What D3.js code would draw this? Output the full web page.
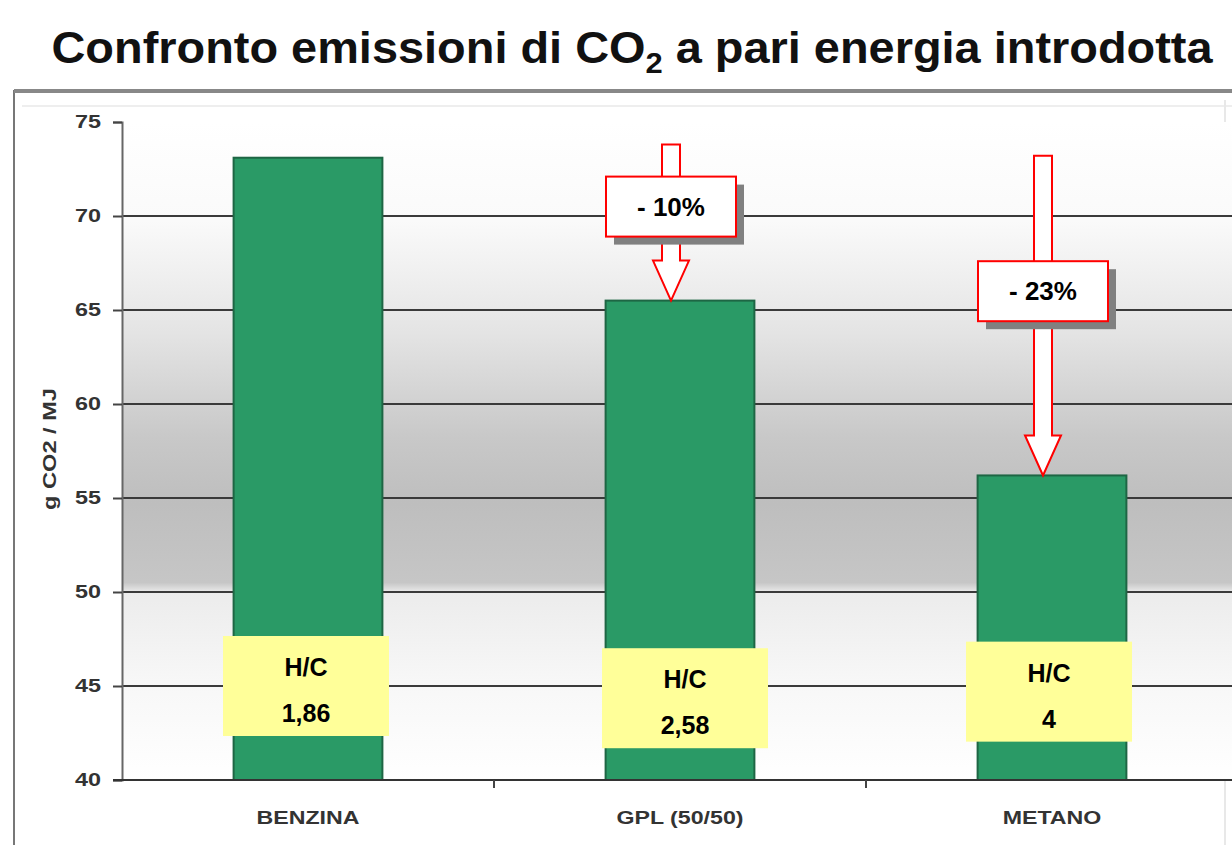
<!DOCTYPE html>
<html><head><meta charset="utf-8">
<script src="https://cdn.jsdelivr.net/npm/d3@7"></script>
<style>
html,body{margin:0;padding:0;background:#fff;}
svg{display:block;font-family:Arial,"Liberation Sans",Helvetica,sans-serif;}
</style></head>
<body>
<svg id="c" width="1232" height="845"></svg>
<script>
// ---- data ----
const categories = ["BENZINA", "GPL (50/50)", "METANO"];
const values = [73.1, 65.5, 56.2];
const hcLabels = ["1,86", "2,58", "4"];
const yTicks = [40, 45, 50, 55, 60, 65, 70, 75];
const reductions = [null, "- 10%", "- 23%"];
const arrowStart = [null, 73.8, 73.2];   // value where each arrow begins
const arrowLabelAt = [null, 70.5, 66.0]; // value of label-box centre
const hcBoxAt = [45.0, 44.35, 44.7];     // value of H/C box centre

(function () {
const svg = d3.select("#c");
const W = 1232, H = 845;
const mLeft = 122, mTop = 122, mBottom = 780, mRight = 1238;
const hcDx = [-2, 5, -3];

const y = d3.scaleLinear().domain([40, 75]).range([mBottom, mTop]);
const x = d3.scaleBand().domain(categories).range([mLeft, mRight])
  .paddingInner(0.6).paddingOuter(0.3);

const defs = svg.append("defs");
const grad = defs.append("linearGradient").attr("id", "bg")
  .attr("x1", 0).attr("y1", 0).attr("x2", 0).attr("y2", 1);
[[0, "#ffffff"], [0.15, "#fafafa"], [0.32, "#e4e4e4"], [0.48, "#c8c8c8"], [0.58, "#bebebe"],
 [0.7, "#c6c6c6"], [0.715, "#ececec"], [0.85, "#f7f7f7"], [1, "#ffffff"]]
  .forEach(([o, c]) => grad.append("stop").attr("offset", o).attr("stop-color", c));

// title
const title = svg.append("text").attr("transform", "translate(632,63) scale(1.066,1)")
  .attr("text-anchor", "middle").attr("font-size", 44).attr("font-weight", "bold").attr("fill", "#111");
title.append("tspan").text("Confronto emissioni di CO");
title.append("tspan").text("2").attr("font-size", 29).attr("dy", 10);
title.append("tspan").text(" a pari energia introdotta").attr("dy", -10);

// outer frame
svg.append("line").attr("x1", 14).attr("x2", 14).attr("y1", 90).attr("y2", H)
  .attr("stroke", "#777").attr("stroke-width", 2);
svg.append("line").attr("x1", 14).attr("x2", W).attr("y1", 91).attr("y2", 91)
  .attr("stroke", "#888").attr("stroke-width", 4);
svg.append("line").attr("x1", 22).attr("x2", W).attr("y1", 106).attr("y2", 106)
  .attr("stroke", "#eee").attr("stroke-width", 2);
svg.append("line").attr("x1", 1225).attr("x2", 1225).attr("y1", 100).attr("y2", H)
  .attr("stroke", "#e8e8e8").attr("stroke-width", 2);

// plot background
svg.append("rect").attr("x", mLeft).attr("y", mTop).attr("width", W - mLeft).attr("height", mBottom - mTop)
  .attr("fill", "url(#bg)");

// gridlines
svg.append("g").selectAll("line").data(yTicks.filter(t => t > 40 && t < 75)).join("line")
  .attr("x1", mLeft).attr("x2", W).attr("y1", d => y(d)).attr("y2", d => y(d))
  .attr("stroke", "#3a3a3a").attr("stroke-width", 2);

// bars
svg.append("g").selectAll("rect").data(categories).join("rect")
  .attr("x", d => x(d)).attr("width", x.bandwidth())
  .attr("y", (d, i) => y(values[i])).attr("height", (d, i) => y(40) - y(values[i]))
  .attr("fill", "#2a9a66").attr("stroke", "#1e6644").attr("stroke-width", 2);

// y axis
const yAxis = d3.axisLeft(y).tickValues(yTicks).tickSize(9).tickPadding(12);
const ga = svg.append("g").attr("transform", `translate(${mLeft},0)`).call(yAxis);
ga.select(".domain").attr("stroke", "#666").attr("stroke-width", 2);
ga.selectAll(".tick line").attr("stroke", "#444").attr("stroke-width", 2);
ga.selectAll(".tick text").attr("font-size", 18).attr("font-weight", "bold").attr("fill", "#333")
  .attr("font-family", "Arial, 'Liberation Sans', sans-serif")
  .attr("transform", "translate(6.3,0) scale(1.3,1)");

// x axis baseline
svg.append("line").attr("x1", mLeft - 9).attr("x2", W).attr("y1", y(40)).attr("y2", y(40))
  .attr("stroke", "#333").attr("stroke-width", 2);
// category boundary ticks
svg.append("g").selectAll("line").data(categories.slice(1)).join("line")
  .attr("x1", d => x(d) - x.step() * x.paddingInner() / 2)
  .attr("x2", d => x(d) - x.step() * x.paddingInner() / 2)
  .attr("y1", y(40)).attr("y2", y(40) + 8).attr("stroke", "#444").attr("stroke-width", 2);

// x labels
svg.append("g").selectAll("text").data(categories).join("text")
  .attr("transform", d => `translate(${x(d) + x.bandwidth() / 2},824) scale(1.22,1)`)
  .attr("text-anchor", "middle").attr("font-size", 19).attr("font-weight", "bold").attr("fill", "#333")
  .text(d => d);

// y title
svg.append("text").attr("transform", `translate(56,${449}) rotate(-90)`)
  .attr("text-anchor", "middle").attr("font-size", 19).attr("font-weight", "bold").attr("fill", "#333")
  .attr("textLength", 122).attr("lengthAdjust", "spacingAndGlyphs")
  .text("g CO2 / MJ");

// H/C boxes
const hc = svg.append("g").selectAll("g").data(categories).join("g")
  .attr("transform", (d, i) => `translate(${x(d) + x.bandwidth() / 2 + hcDx[i]},${y(hcBoxAt[i])})`);
hc.append("rect").attr("x", -83).attr("y", -50).attr("width", 166).attr("height", 100).attr("fill", "#ffff99");
hc.append("text").attr("y", -10).attr("text-anchor", "middle").attr("font-size", 25)
  .attr("font-weight", "bold").attr("fill", "#000").text("H/C");
hc.append("text").attr("y", 36).attr("text-anchor", "middle").attr("font-size", 25)
  .attr("font-weight", "bold").attr("fill", "#000").text((d, i) => hcLabels[i]);

// reduction arrows
categories.forEach((c, i) => {
  if (!reductions[i]) return;
  const cx = x(c) + x.bandwidth() / 2 - 9;
  const y0 = y(arrowStart[i]), y1 = y(values[i]);
  const hw = 9, headW = 18, headH = 40;
  const g = svg.append("g");
  const p = d3.path();
  p.moveTo(cx - hw, y0); p.lineTo(cx + hw, y0); p.lineTo(cx + hw, y1 - headH);
  p.lineTo(cx + headW, y1 - headH); p.lineTo(cx, y1); p.lineTo(cx - headW, y1 - headH);
  p.lineTo(cx - hw, y1 - headH); p.closePath();
  g.append("path").attr("d", p.toString()).attr("fill", "#fff").attr("stroke", "#ff0000").attr("stroke-width", 2);
  const ly = y(arrowLabelAt[i]);
  g.append("rect").attr("x", cx - 57).attr("y", ly - 22).attr("width", 130).attr("height", 60).attr("fill", "#808080");
  g.append("rect").attr("x", cx - 65).attr("y", ly - 30).attr("width", 130).attr("height", 60)
    .attr("fill", "#fff").attr("stroke", "#ff0000").attr("stroke-width", 2);
  g.append("text").attr("x", cx).attr("y", ly + 9).attr("text-anchor", "middle").attr("font-size", 26)
    .attr("font-weight", "bold").attr("fill", "#000").text(reductions[i]);
});
})();
</script>
</body></html>
